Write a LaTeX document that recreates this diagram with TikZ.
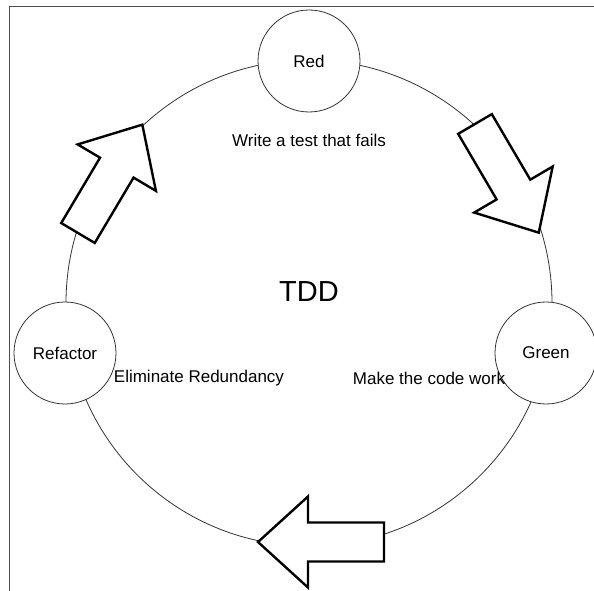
\documentclass[tikz,border=0pt]{standalone}
\usepackage{fontspec}
\setmainfont{Liberation Sans}
\tikzset{
  stage/.style={circle,draw=black!80,line width=0.8pt,fill=white,minimum size=102pt,inner sep=0pt,font=\fontsize{17}{20}\selectfont},
  note/.style={font=\fontsize{17}{20}\selectfont},
  flow/.pic={\draw[line width=2.4pt,fill=white] (0,-19.5) -- (76,-19.5) -- (76,-45.5) -- (126,0) -- (76,45.5) -- (76,19.5) -- (0,19.5) -- cycle;}
}
\begin{document}
\begin{tikzpicture}[x=1pt,y=1pt]
        \useasboundingbox (-309,-288) rectangle (285,303);
        \draw[black!70,line width=1pt] (-299,-288) -- (-299,296) -- (285,296);
        \draw[black!80,line width=0.8pt] (0,0) circle (243);
        \pic[rotate=59.3] at (-231,70) {flow};\pic[rotate=-59.6] at (166,179) {flow};\pic[rotate=180] at (75,-239) {flow};
        \node[stage] (red) at (0,242) {Red};\node[stage] (green) at (237,-50) {Green};\node[stage] (refactor) at (-244,-50) {Refactor};
        \node[note] (fails) at (0,163) {Write a test that fails};
        \node[note] (redundancy) at (-110,-75) {Eliminate Redundancy};\node[note] (work) at (120,-75) {Make the code work};
        \node[font=\fontsize{29}{34}\selectfont] (tdd) at (0,11) {TDD};
     \end{tikzpicture}
\end{document}
